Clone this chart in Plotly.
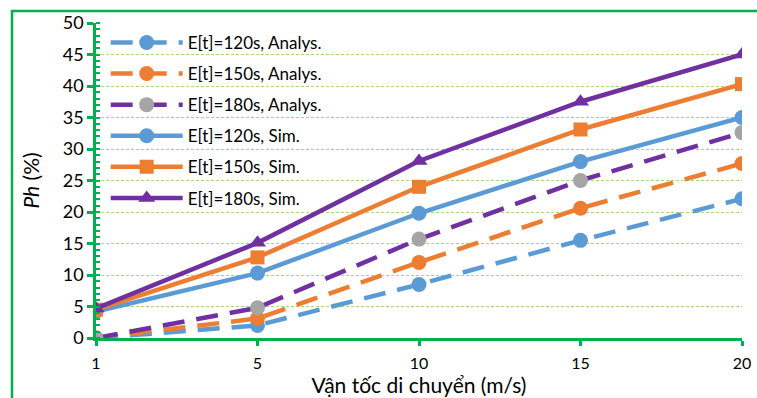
import plotly.graph_objects as go

categories = ["1", "5", "10", "15", "20"]
ana_120 = [0, 2.0, 8.5, 15.5, 22.1]
ana_150 = [0, 3.1, 12.0, 20.6, 27.7]
ana_180 = [0, 4.8, 15.7, 25.0, 32.6]
sim_120 = [4.2, 10.3, 19.8, 28.0, 35.0]
sim_150 = [4.5, 12.8, 24.0, 33.1, 40.3]
sim_180 = [4.7, 15.1, 28.1, 37.5, 45.0]
y_ticks = list(range(0, 51, 5))

BLUE = "#5B9BD5"
ORANGE = "#ED7D31"
PURPLE = "#7030A0"
GRAY = "#A5A5A5"
GREEN = "#00B050"
GRID = "#A9D97E"

xpos = list(range(len(categories)))

series = [
    ("E[t]=120s, Analys.", ana_120, BLUE, BLUE, "circle", "22px,12px"),
    ("E[t]=150s, Analys.", ana_150, ORANGE, ORANGE, "circle", "22px,12px"),
    ("E[t]=180s, Analys.", ana_180, PURPLE, GRAY, "circle", "22px,12px"),
    ("E[t]=120s, Sim.", sim_120, BLUE, BLUE, "circle", "solid"),
    ("E[t]=150s, Sim.", sim_150, ORANGE, ORANGE, "square", "solid"),
    ("E[t]=180s, Sim.", sim_180, PURPLE, PURPLE, "triangle-up", "solid"),
]

fig = go.Figure()
for i, (name, vals, lc, mc, sym, dash) in enumerate(series):
    fig.add_trace(go.Scatter(
        x=xpos, y=vals, name=name, mode="lines+markers",
        line=dict(color=lc, width=4.5, dash=dash),
        marker=dict(color=mc, size=15 if sym != "square" else 14, symbol=sym),
        legendgroup=f"g{i}",
    ))

fig.update_layout(
    width=757, height=398,
    margin=dict(l=96, r=15, t=23, b=60),
    paper_bgcolor="white", plot_bgcolor="white",
    font=dict(family="Lato", size=15, color="#000000"),
    showlegend=True,
    legend=dict(
        x=0.015, y=0.994, xanchor="left", yanchor="top",
        bgcolor="rgba(0,0,0,0)", font=dict(size=17),
        itemwidth=72, traceorder="grouped", tracegroupgap=6,
    ),
    shapes=[dict(
        type="rect", xref="paper", yref="paper",
        x0=-0.130, y0=-0.4, x1=1.2, y1=1.038,
        line=dict(color=GREEN, width=2.5), layer="below",
    )],
)

fig.update_xaxes(
    range=[0, 4], tickvals=xpos, ticktext=categories,
    showgrid=False, zeroline=False, automargin=False,
    showline=True, linecolor=GREEN, linewidth=2.5,
    ticks="outside", ticklen=5, tickcolor=GREEN, tickwidth=2.5,
    ticklabelstandoff=4,
    title=dict(text="Vận tốc di chuyển (m/s)", font=dict(size=21), standoff=3),
    tickfont=dict(size=16),
)
fig.update_yaxes(
    range=[0, 50], tickvals=y_ticks,
    showgrid=True, gridcolor=GRID, griddash="3px,2px", gridwidth=1,
    zeroline=False, automargin=False,
    showline=True, linecolor=GREEN, linewidth=2.5,
    ticks="outside", ticklen=6, tickcolor=GREEN, tickwidth=2.5,
    minor=dict(dtick=1, ticks="inside", ticklen=4, tickcolor=GREEN, tickwidth=2, showgrid=False),
    title=dict(text="<i>Ph</i> (%)", font=dict(size=21), standoff=18),
    tickfont=dict(size=18),
)

fig.write_html("out.html")
